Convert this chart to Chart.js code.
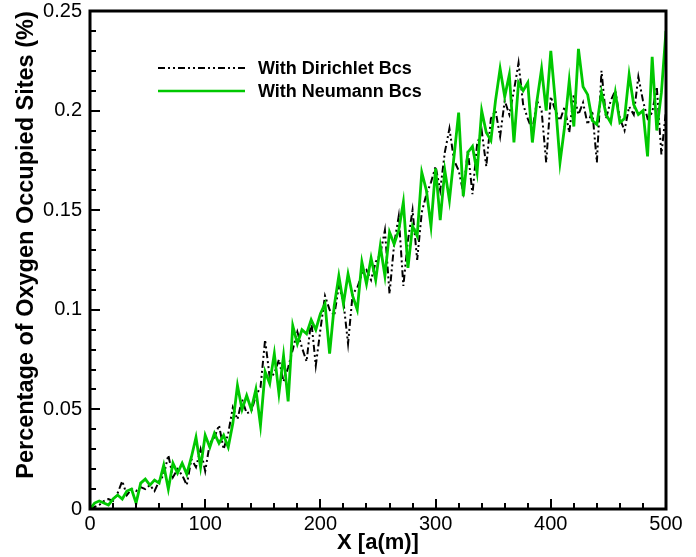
<!DOCTYPE html>
<html>
<head>
<meta charset="utf-8">
<script src="https://cdn.jsdelivr.net/npm/chart.js@4.4.1/dist/chart.umd.min.js"></script>
<style>
  body { margin: 0; background: #fff; }
  #chart { display: block; }
</style>
</head>
<body>
<canvas id="chart" width="696" height="557"></canvas>
<script>
// x positions (a(m)) shared by both series
const xValues = [
  0, 4, 8, 12, 16, 20, 24, 28, 32, 36,
  40, 44, 48, 52, 56, 60, 64, 68, 72, 76,
  80, 84, 88, 92, 96, 100, 104, 108, 112, 116,
  120, 124, 128, 132, 136, 140, 144, 148, 152, 156,
  160, 164, 168, 172, 176, 180, 184, 188, 192, 196,
  200, 204, 208, 212, 216, 220, 224, 228, 232, 236,
  240, 244, 248, 252, 256, 260, 264, 268, 272, 276,
  280, 284, 288, 292, 296, 300, 304, 308, 312, 316,
  320, 324, 328, 332, 336, 340, 344, 348, 352, 356,
  360, 364, 368, 372, 376, 380, 384, 388, 392, 396,
  400, 404, 408, 412, 416, 420, 424, 428, 432, 436,
  440, 444, 448, 452, 456, 460, 464, 468, 472, 476,
  480, 484, 488, 492, 496, 500
];

const dirichlet = [
  0.000, 0.001, 0.002, 0.004, 0.005, 0.004, 0.008, 0.014, 0.007, 0.010,
  0.009, 0.011, 0.010, 0.012, 0.009, 0.014, 0.017, 0.027, 0.016, 0.020,
  0.017, 0.012, 0.025, 0.021, 0.030, 0.019, 0.033, 0.036, 0.042, 0.030,
  0.038, 0.051, 0.045, 0.055, 0.048, 0.049, 0.057, 0.061, 0.085, 0.066,
  0.068, 0.075, 0.064, 0.071, 0.080, 0.089, 0.081, 0.074, 0.095, 0.072,
  0.090, 0.107, 0.100, 0.097, 0.112, 0.104, 0.083, 0.108, 0.111, 0.118,
  0.120, 0.115, 0.124, 0.128, 0.140, 0.108, 0.133, 0.147, 0.112, 0.135,
  0.150, 0.125, 0.149, 0.158, 0.164, 0.172, 0.160, 0.179, 0.191, 0.175,
  0.170, 0.159, 0.180, 0.158, 0.183, 0.190, 0.172, 0.196, 0.200, 0.187,
  0.205, 0.198, 0.210, 0.224, 0.203, 0.196, 0.190, 0.205, 0.200, 0.174,
  0.207, 0.200, 0.195, 0.202, 0.189, 0.208, 0.198, 0.204, 0.193, 0.200,
  0.174, 0.220, 0.196, 0.205, 0.210, 0.196, 0.190, 0.202, 0.198, 0.217,
  0.205, 0.196, 0.199, 0.212, 0.178, 0.200
];

const neumann = [
  0.000, 0.003, 0.004, 0.003, 0.002, 0.005, 0.007, 0.005, 0.009, 0.010,
  0.003, 0.013, 0.015, 0.012, 0.0145, 0.013, 0.022, 0.010, 0.023, 0.018,
  0.023, 0.0175, 0.026, 0.036, 0.021, 0.037, 0.031, 0.038, 0.033, 0.037,
  0.031, 0.043, 0.062, 0.050, 0.057, 0.050, 0.060, 0.042, 0.069, 0.063,
  0.078, 0.058, 0.077, 0.054, 0.092, 0.083, 0.090, 0.088, 0.095, 0.090,
  0.098, 0.103, 0.078, 0.102, 0.117, 0.103, 0.118, 0.107, 0.100, 0.124,
  0.113, 0.126, 0.115, 0.132, 0.117, 0.139, 0.133, 0.140, 0.154, 0.121,
  0.142, 0.137, 0.169, 0.160, 0.142, 0.171, 0.145, 0.170, 0.155, 0.177,
  0.199, 0.157, 0.179, 0.182, 0.169, 0.200, 0.189, 0.185, 0.205, 0.221,
  0.207, 0.218, 0.184, 0.214, 0.210, 0.214, 0.184, 0.205, 0.221, 0.200,
  0.230, 0.204, 0.174, 0.192, 0.215, 0.192, 0.231, 0.212, 0.208, 0.195,
  0.193, 0.209, 0.198, 0.194, 0.209, 0.194, 0.196, 0.218, 0.203, 0.198,
  0.200, 0.177, 0.227, 0.190, 0.209, 0.240
];

const seriesNames = ['With Dirichlet Bcs', 'With Neumann Bcs'];
const xTitle = 'X [a(m)]';
const yTitle = 'Percentage of Oxygen Occupied Sites (%)';

const FONT = '"Liberation Sans", Arial, Helvetica, sans-serif';
const GREEN = 'rgb(0, 200, 0)';
const DASH = [7, 3, 2, 3, 2, 3];

function toPoints(ys) {
  return xValues.map((x, i) => ({ x: x, y: ys[i] }));
}

// frame, inward ticks, legend and y title
const decorations = {
  id: 'decorations',
  afterDatasetsDraw(chart) {
    const ctx = chart.ctx;
    const a = chart.chartArea;
    const xs = chart.scales.x;
    const ys = chart.scales.y;
    ctx.save();
    ctx.strokeStyle = '#000';
    ctx.lineWidth = 2;
    ctx.beginPath();
    for (let v = xs.min; v <= xs.max; v += 20) {
      const px = Math.round(xs.getPixelForValue(v));
      const len = v % 100 === 0 ? 10 : 6;
      ctx.moveTo(px, a.bottom);
      ctx.lineTo(px, a.bottom - len);
    }
    for (let k = 0; k <= 25; k++) {
      const py = Math.round(ys.getPixelForValue(k / 100));
      const len = k % 5 === 0 ? 10 : 6;
      ctx.moveTo(a.left, py);
      ctx.lineTo(a.left + len, py);
    }
    ctx.stroke();

    ctx.lineWidth = 3;
    ctx.strokeRect(a.left, a.top, a.right - a.left, a.bottom - a.top);

    // legend
    const legendY = [68, 91];
    chart.data.datasets.forEach((ds, i) => {
      ctx.beginPath();
      ctx.strokeStyle = ds.borderColor;
      ctx.lineWidth = Math.min(ds.borderWidth, 2.5);
      ctx.setLineDash(ds.borderDash || []);
      ctx.moveTo(158, legendY[i]);
      ctx.lineTo(245, legendY[i]);
      ctx.stroke();
      ctx.setLineDash([]);
      ctx.fillStyle = '#000';
      ctx.font = 'bold 18px ' + FONT;
      ctx.textBaseline = 'middle';
      ctx.textAlign = 'left';
      ctx.fillText(ds.label, 258, legendY[i] + 1);
    });

    // y axis title
    ctx.translate(27, 245);
    ctx.rotate(-Math.PI / 2);
    ctx.fillStyle = '#000';
    ctx.font = 'bold 23.5px ' + FONT;
    ctx.textAlign = 'center';
    ctx.textBaseline = 'middle';
    ctx.fillText(yTitle, 0, 0);
    ctx.restore();
  }
};

new Chart(document.getElementById('chart').getContext('2d'), {
  type: 'line',
  data: {
    datasets: [
      {
        label: seriesNames[0],
        data: toPoints(dirichlet),
        borderColor: '#000',
        borderWidth: 2,
        borderDash: DASH,
        pointRadius: 0,
        tension: 0,
        order: 1
      },
      {
        label: seriesNames[1],
        data: toPoints(neumann),
        borderColor: GREEN,
        borderWidth: 2.8,
        pointRadius: 0,
        tension: 0,
        order: 0
      }
    ]
  },
  options: {
    responsive: false,
    animation: false,
    layout: { padding: { top: 11, right: 30, left: 0, bottom: 0 } },
    plugins: {
      legend: { display: false },
      tooltip: { enabled: false }
    },
    scales: {
      x: {
        type: 'linear',
        min: 0,
        max: 500,
        grid: { display: false, drawTicks: false },
        border: { display: false },
        ticks: {
          stepSize: 100,
          padding: 3,
          color: '#000',
          font: { family: FONT, size: 20 }
        },
        title: {
          display: true,
          text: xTitle,
          color: '#000',
          font: { family: FONT, size: 22, weight: 'bold' },
          padding: { top: 0, bottom: 1 }
        },
        afterFit(scale) {
          scale.height = 48;
          scale.paddingLeft = 0;
          scale.paddingRight = 0;
        }
      },
      y: {
        min: 0,
        max: 0.25,
        grid: { display: false, drawTicks: false },
        border: { display: false },
        ticks: {
          stepSize: 0.05,
          padding: 8,
          color: '#000',
          font: { family: FONT, size: 20 },
          callback: v => String(+v.toFixed(2))
        },
        afterFit(scale) {
          scale.width = 90;
          scale.paddingTop = 0;
          scale.paddingBottom = 0;
        }
      }
    }
  },
  plugins: [decorations]
});
</script>
</body>
</html>
